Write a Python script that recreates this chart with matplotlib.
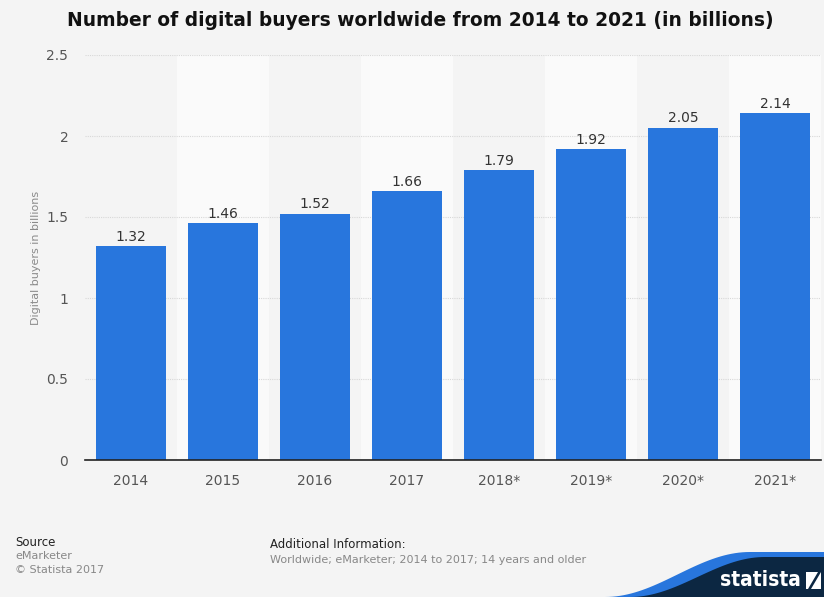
import numpy as np
import matplotlib.pyplot as plt
from matplotlib.patches import Polygon

years = ["2014", "2015", "2016", "2017", "2018*", "2019*", "2020*", "2021*"]
buyers = [1.32, 1.46, 1.52, 1.66, 1.79, 1.92, 2.05, 2.14]
yticks = [0, 0.5, 1, 1.5, 2, 2.5]
ytick_labels = ["0", "0.5", "1", "1.5", "2", "2.5"]

bg = "#f4f4f4"
bar_color = "#2876dd"

fig = plt.figure(figsize=(8.24, 5.97), dpi=100, facecolor=bg)
ax = fig.add_axes([85 / 824, 1 - 460 / 597, 736 / 824, 405 / 597])
ax.set_facecolor(bg)

x = np.arange(len(years))

# lighter bands behind every other column
for i in x[1::2]:
    ax.axvspan(i - 0.5, i + 0.5, color="#fafafa", zorder=0, lw=0)

ax.set_ylim(0, 2.5)
ax.set_xlim(-0.5, len(years) - 0.5)
ax.set_yticks(yticks)
ax.set_yticklabels(ytick_labels)
ax.yaxis.grid(True, linestyle=(0, (1, 1)), color="#d8d8d8", lw=0.8, zorder=1)
ax.set_axisbelow(True)

ax.bar(x, buyers, width=0.77, color=bar_color, zorder=2)
for xi, v in zip(x, buyers):
    ax.text(xi, v + 0.015, f"{v:.2f}", ha="center", va="bottom",
            fontsize=10, color="#333333", zorder=3)

ax.set_xticks(x)
ax.set_xticklabels(years)
ax.tick_params(axis="both", length=0, labelsize=10, labelcolor="#555555")
ax.tick_params(axis="x", pad=10)
ax.tick_params(axis="y", pad=12)
for s in ["top", "right", "left"]:
    ax.spines[s].set_visible(False)
ax.spines["bottom"].set_color("#222222")
ax.spines["bottom"].set_linewidth(1.2)

ax.set_ylabel("Digital buyers in billions", fontsize=8, color="#8a8a8a", labelpad=4)

fig.text(420 / 824, 1 - 20 / 597, "Number of digital buyers worldwide from 2014 to 2021 (in billions)",
         ha="center", va="center", fontsize=13.4, fontweight="bold", color="#111111")

# footer
fig.text(15 / 824, 1 - 542 / 597, "Source", fontsize=8.5, color="#222222", va="center")
fig.text(15 / 824, 1 - 556 / 597, "eMarketer", fontsize=8, color="#888888", va="center")
fig.text(15 / 824, 1 - 570 / 597, "\u00a9 Statista 2017", fontsize=8, color="#888888", va="center")
fig.text(270 / 824, 1 - 545 / 597, "Additional Information:", fontsize=8.5, color="#222222", va="center")
fig.text(270 / 824, 1 - 560 / 597, "Worldwide; eMarketer; 2014 to 2017; 14 years and older",
         fontsize=8, color="#888888", va="center")

# logo swoosh
t = np.linspace(0, 1, 40)


def swoosh(x0, x1, y0, y1):
    xs = x0 + (x1 - x0) * t
    ys = y0 + (y1 - y0) * (0.5 - 0.5 * np.cos(np.pi * t))
    return list(zip(xs / 824, 1 - ys / 597))


blue_edge = swoosh(605, 750, 597, 552) + [(1, 1 - 552 / 597), (1, 0), (605 / 824, 0)]
fig.patches.append(Polygon(blue_edge, closed=True, transform=fig.transFigure,
                           facecolor=bar_color, edgecolor="none"))
navy = swoosh(630, 765, 597, 557) + [(1, 1 - 557 / 597), (1, 0), (630 / 824, 0)]
fig.patches.append(Polygon(navy, closed=True, transform=fig.transFigure,
                           facecolor="#0c2742", edgecolor="none"))
fig.text(760 / 824, 1 - 580 / 597, "statista", fontsize=15, fontweight="bold",
         color="white", ha="center", va="center", fontstretch="condensed")

# small logo mark: white square split by a diagonal
icon = [(806, 589), (806, 572), (821, 572), (821, 589)]
fig.patches.append(Polygon([(px / 824, 1 - py / 597) for px, py in icon], closed=True,
                           transform=fig.transFigure, facecolor="white", edgecolor="none"))
slash = [(808, 589), (818, 572), (821, 572), (811, 589)]
fig.patches.append(Polygon([(px / 824, 1 - py / 597) for px, py in slash], closed=True,
                           transform=fig.transFigure, facecolor="#0c2742", edgecolor="none"))

fig.savefig("out.png", dpi=100, facecolor=bg)
